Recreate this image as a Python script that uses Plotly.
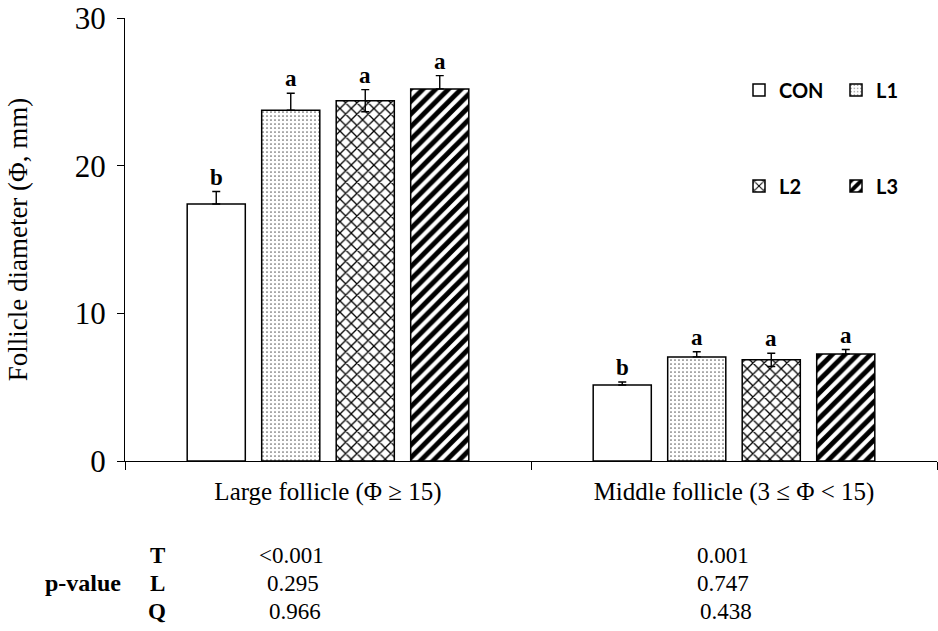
import plotly.graph_objects as go

categories = ["Large follicle (Φ ≥ 15)", "Middle follicle (3 ≤ Φ < 15)"]
series = ["CON", "L1", "L2", "L3"]
means = {
    "CON": [17.4, 5.15],
    "L1": [23.75, 7.05],
    "L2": [24.4, 6.85],
    "L3": [25.2, 7.25],
}
errs = {
    "CON": [0.85, 0.2],
    "L1": [1.15, 0.35],
    "L2": [0.75, 0.45],
    "L3": [0.9, 0.3],
}
letters = {
    "CON": ["b", "b"],
    "L1": ["a", "a"],
    "L2": ["a", "a"],
    "L3": ["a", "a"],
}
p_rows = ["T", "L", "Q"]
p_large = ["<0.001", "0.295", "0.966"]
p_middle = ["0.001", "0.747", "0.438"]

patterns = {
    "CON": dict(shape=""),
    "L1": dict(shape=".", size=4, solidity=0.15, fgcolor="#666", bgcolor="white",
               fgopacity=1),
    "L2": dict(shape="x", size=8, solidity=0.3, fgcolor="black", bgcolor="white",
               fgopacity=1),
    "L3": dict(shape="/", size=9, solidity=0.55, fgcolor="black", bgcolor="white",
               fgopacity=1),
}
legend_of = {"CON": "legend", "L1": "legend", "L2": "legend2", "L3": "legend2"}
symmetric_err = {"CON": False, "L1": False, "L2": True, "L3": False}

SERIF = "Liberation Serif"
L, R, T, B = 125, 1, 18, 170
W, H = 938, 631
PW, PH = W - L - R, H - T - B

fig = go.Figure()
for s in series:
    fig.add_trace(go.Bar(
        x=categories, y=means[s], name=s, legend=legend_of[s],
        marker=dict(color="white", line=dict(color="black", width=1.5),
                    pattern=patterns[s]),
        error_y=dict(type="data", array=errs[s],
                     arrayminus=errs[s] if symmetric_err[s] else [0] * len(errs[s]),
                     symmetric=False, color="black", thickness=1.4, width=4),
    ))

# significance letters
pitch = 74.5
annotations = []
for i, s in enumerate(series):
    off = (i - 1.5) * pitch
    for j, c in enumerate(categories):
        annotations.append(dict(
            x=c, y=means[s][j] + errs[s][j], xref="x", yref="y",
            text="<b>" + letters[s][j] + "</b>", showarrow=False,
            xshift=off, yshift=0, yanchor="bottom",
            font=dict(family=SERIF, size=23, color="black")))


def px(xp):
    return (xp - L) / PW


def py(yp):
    return (H - B - yp) / PH


def label(x, y, text, size=23):
    return dict(x=px(x), y=py(y), xref="paper", yref="paper", text=text,
                showarrow=False, xanchor="center", yanchor="middle",
                font=dict(family=SERIF, size=size, color="black"))


row_y = [555, 583, 611]
annotations.append(label(83, 583, "<b>p-value</b>", 24))
large_x = [291, 293, 295]
middle_x = [723, 723, 726]
for k, r in enumerate(p_rows):
    annotations.append(label(157, row_y[k], "<b>" + r + "</b>", 23))
    annotations.append(label(large_x[k], row_y[k], p_large[k], 23))
    annotations.append(label(middle_x[k], row_y[k], p_middle[k], 23))

legend_font = dict(family="Lato", size=20, color="black", weight="bold")
fig.update_layout(
    width=W, height=H,
    margin=dict(l=L, r=R, t=T, b=B),
    paper_bgcolor="white", plot_bgcolor="white",
    barmode="group", bargap=0.266, bargroupgap=0.22,
    font=dict(family=SERIF, color="black"),
    annotations=annotations,
    legend=dict(orientation="h", x=px(739), y=py(90), xanchor="left", yanchor="middle",
                entrywidth=52, entrywidthmode="pixels", font=legend_font,
                bgcolor="rgba(0,0,0,0)", itemclick=False),
    legend2=dict(orientation="h", x=px(739), y=py(186), xanchor="left", yanchor="middle",
                 entrywidth=52, entrywidthmode="pixels", font=legend_font,
                 bgcolor="rgba(0,0,0,0)", itemclick=False),
    xaxis=dict(showline=True, linecolor="black", linewidth=1.2, automargin=False,
               ticks="outside", ticklen=8, tickcolor="black", tickson="boundaries",
               ticklabelstandoff=8,
               tickfont=dict(family=SERIF, size=25, color="black"),
               showgrid=False, zeroline=False),
    yaxis=dict(range=[0, 30], tickvals=[0, 10, 20, 30], showline=True, automargin=False,
               linecolor="black", linewidth=1.2, ticks="outside", ticklen=7,
               tickcolor="black", showgrid=False, zeroline=False, ticklabelstandoff=5,
               tickfont=dict(family=SERIF, size=31, color="black"),
               title=dict(text="Follicle diameter (Φ, mm)", standoff=39,
                          font=dict(family=SERIF, size=27, color="black"))),
)

fig.write_html("out.html", config={"displayModeBar": False},
               post_script="document.body.style.margin='0';")
